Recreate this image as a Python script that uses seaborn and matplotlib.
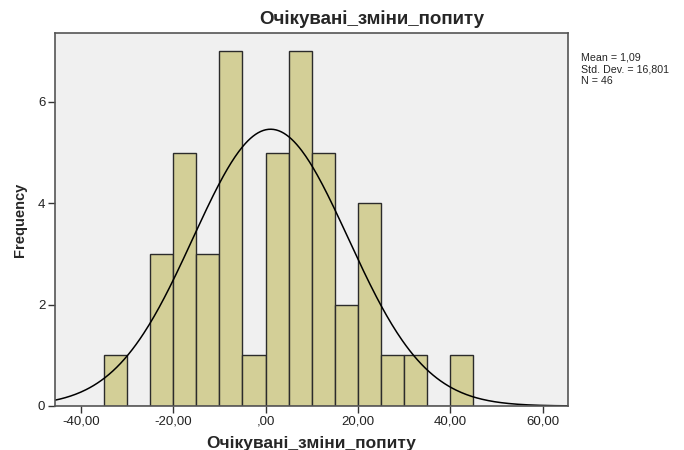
import numpy as np
import pandas as pd
import matplotlib
matplotlib.use("Agg")
import matplotlib.pyplot as plt
import seaborn as sns

# Data
bin_left_edges = [-35, -30, -25, -20, -15, -10, -5, 0, 5, 10, 15, 20, 25, 30, 35, 40]
frequencies    = [1, 0, 3, 5, 3, 7, 1, 5, 7, 5, 2, 4, 1, 1, 0, 1]
bin_width = 5
mean_value = 1.09
std_dev = 16.801
n_total = 46
x_ticks = [-40, -20, 0, 20, 40, 60]
x_tick_labels = ["-40,00", "-20,00", ",00", "20,00", "40,00", "60,00"]
y_ticks = [0, 2, 4, 6]
title_text = "Очікувані_зміни_попиту"
xlabel_text = "Очікувані_зміни_попиту"
ylabel_text = "Frequency"
stats_text = "Mean = 1,09\nStd. Dev. = 16,801\nN = 46"

sns.set_theme(style="white")
plt.rcParams['font.family'] = ['Liberation Sans', 'DejaVu Sans']

fig = plt.figure(figsize=(6.84, 4.5), dpi=100)
ax = fig.add_axes([55/684, 1-406/450, (568-55)/684, (406-33)/450])
ax.set_facecolor("#F0F0F0")

df = pd.DataFrame({"center": [e + bin_width/2 for e in bin_left_edges],
                   "freq": frequencies})
edges = bin_left_edges + [bin_left_edges[-1] + bin_width]
sns.histplot(data=df, x="center", weights="freq", bins=edges, ax=ax,
             color="#D3CF97", edgecolor="#2b2b2b", linewidth=1.0, alpha=1.0)

xs = np.linspace(-45.6, 65.5, 400)
ys = n_total * bin_width * np.exp(-0.5*((xs-mean_value)/std_dev)**2) / (std_dev*np.sqrt(2*np.pi))
sns.lineplot(x=xs, y=ys, ax=ax, color="black", linewidth=1.1)

ax.set_xlim(-45.6, 65.5)
ax.set_ylim(0, 7.36)
ax.set_xticks(x_ticks)
ax.set_xticklabels(x_tick_labels, fontsize=9.5)
ax.set_yticks(y_ticks)
ax.set_yticklabels([str(v) for v in y_ticks], fontsize=9.5)
ax.tick_params(axis="both", direction="out", length=5, width=1, color="#333333",
               labelcolor="#222222", pad=2, bottom=True, left=True)
for s in ax.spines.values():
    s.set_visible(True)
    s.set_color("#555555")
    s.set_linewidth(1.2)
ax.set_xlabel(xlabel_text, fontsize=12.5, fontweight="bold", labelpad=6)
ax.set_ylabel(ylabel_text, fontsize=10.5, fontweight="bold", labelpad=8)

fig.text(372/684, 1-19/450, title_text, fontsize=13.5, fontweight="bold",
         ha="center", va="center")
fig.text(581/684, 1-53/450, stats_text, fontsize=7.7, ha="left", va="top",
         linespacing=1.2)

fig.savefig("out.png", dpi=100)
